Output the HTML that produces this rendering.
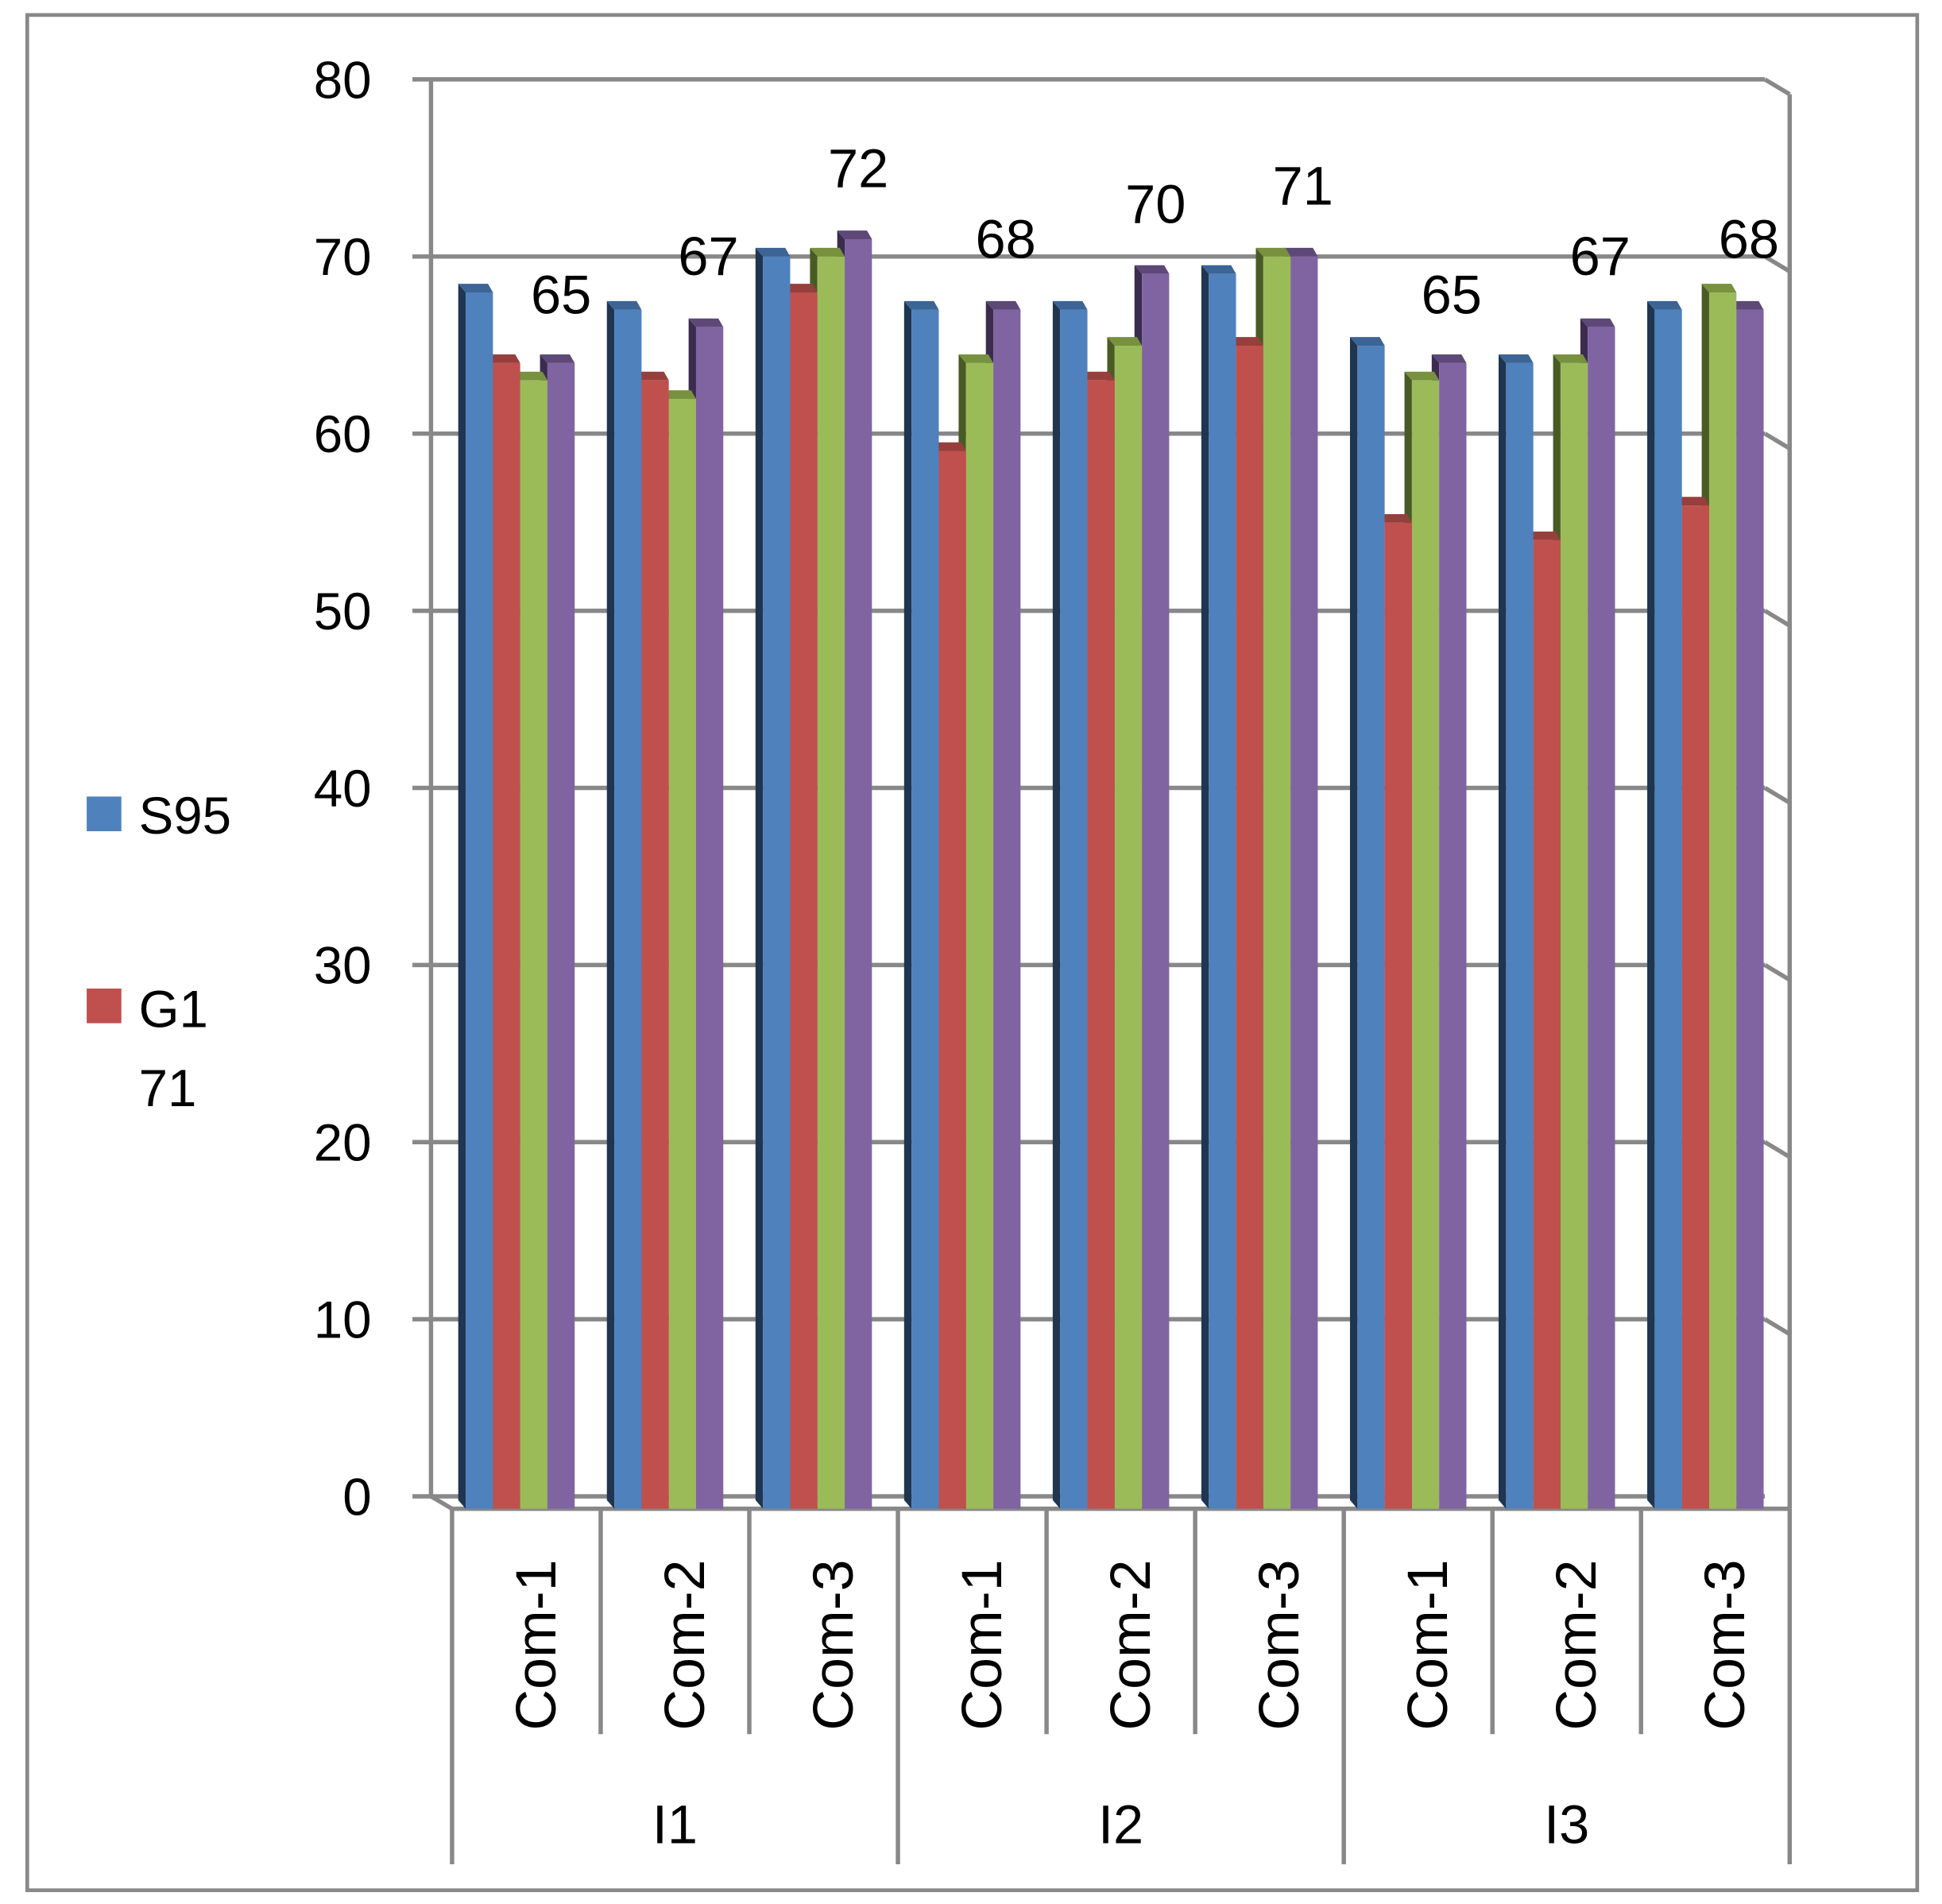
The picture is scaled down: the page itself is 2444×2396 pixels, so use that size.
<!DOCTYPE html>
<html><head><meta charset="utf-8"><style>html,body{margin:0;padding:0;background:#fff}svg{display:block}</style></head><body>
<svg width="2444" height="2396" viewBox="0 0 1568 1537" xmlns="http://www.w3.org/2000/svg" font-family="Liberation Sans, sans-serif">
<rect x="0" y="0" width="1568" height="1537" fill="#fff"/>
<rect x="22" y="12" width="1526" height="1514" fill="none" stroke="#888" stroke-width="3"/>
<g stroke="#888" stroke-width="3.5" fill="none" id="grid"></g>
<g id="bars"></g>
<g id="txt" font-size="42" fill="#000"></g>
<script>
var ns="http://www.w3.org/2000/svg";
function el(p,t,a,txt){var e=document.createElementNS(ns,t);for(var k in a)e.setAttribute(k,a[k]);if(txt!==undefined)e.textContent=txt;p.appendChild(e);return e;}
var g=document.getElementById('grid'),b=document.getElementById('bars'),tx=document.getElementById('txt');
for(var i=0;i<=8;i++){var y=1208-143*i;
 el(g,'line',{x1:333,y1:y,x2:1425,y2:y});
 if(i>0)el(g,'line',{x1:1425,y1:y,x2:1445,y2:y+12});
 el(tx,'text',{x:300,y:y+15,'text-anchor':'end'},String(i*10));}
el(g,'line',{x1:348,y1:64,x2:348,y2:1208});
el(g,'line',{x1:1445,y1:76,x2:1445,y2:1218});
el(g,'line',{x1:348,y1:1208,x2:365,y2:1218});
el(g,'line',{x1:365,y1:1218,x2:1445,y2:1218});
var seps=[365,485,605,725,845,965,1085,1205,1325,1445];
seps.forEach(function(x){var long=(x==365||x==725||x==1085||x==1445);el(g,'line',{x1:x,y1:1218,x2:x,y2:long?1505:1400});});
var tops=[[236,293,307,293],[250,307,322,264],[207,236,207,193],[250,364,293,250],[250,307,279,221],[221,279,207,207],[279,422,307,293],[293,436,293,264],[250,408,236,250]];
var col=[["#4f81bd","#1f3550","#3c6494"],["#c0504d","#7a2c2a","#963f3c"],["#9bbb59","#4a5a26","#77913f"],["#8064a2","#3b2c4d","#5d4878"]];
for(var gi=0;gi<9;gi++){var x0=376+120*gi;
 for(var s=3;s>=0;s--){var xl=x0+s*22,xr=xl+22,t=tops[gi][s],bt=1218;
  el(b,'polygon',{points:(xl-6)+','+(t-7)+' '+xl+','+t+' '+xl+','+bt+' '+(xl-6)+','+(bt-7),fill:col[s][1]});
  el(b,'polygon',{points:(xl-6)+','+(t-7)+' '+(xr-4)+','+(t-7)+' '+xr+','+t+' '+xl+','+t,fill:col[s][2]});
  el(b,'rect',{x:xl,y:t,width:22,height:bt-t,fill:col[s][0]});}
 el(tx,'text',{x:433+120*gi,y:1328,'text-anchor':'middle','dominant-baseline':'central',transform:'rotate(-90 '+(433+120*gi)+' 1328)','font-size':46},'Com-'+(gi%3+1));}
var lab=[["65",453,253],["67",572,222],["72",693,151],["68",812,208],["70",933,180],["71",1052,165],["65",1172,253],["67",1292,222],["68",1412,208]];
lab.forEach(function(l){el(tx,'text',{x:l[1],y:l[2],'text-anchor':'middle','font-size':44},l[0]);});
[["I1",545],["I2",905],["I3",1265]].forEach(function(l){el(tx,'text',{x:l[1],y:1488,'text-anchor':'middle','font-size':44},l[0]);});
el(b,'rect',{x:70,y:643,width:28,height:28,fill:"#4f81bd"});
el(b,'rect',{x:70,y:798,width:28,height:28,fill:"#c0504d"});
el(tx,'text',{x:112,y:673},'S95');
el(tx,'text',{x:112,y:829},'G1');
el(tx,'text',{x:112,y:893},'71');
</script>
</svg>
</body></html>
